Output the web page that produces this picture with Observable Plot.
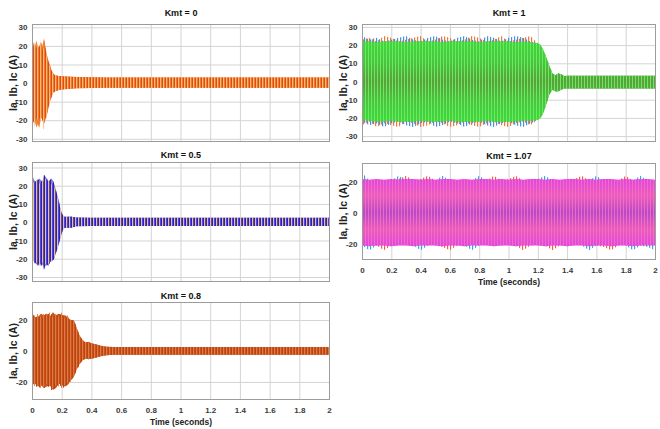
<!DOCTYPE html>
<html><head><meta charset="utf-8">
<script src="https://cdn.jsdelivr.net/npm/d3@7"></script>
<script src="https://cdn.jsdelivr.net/npm/@observablehq/plot@0.6"></script>
<style>
html,body{margin:0;padding:0;background:#fff;}
#chart{position:relative;width:660px;height:429px;overflow:hidden;font-family:"Liberation Sans",Arial,sans-serif;}
#chart > div{position:absolute;}
</style></head><body>
<div id="chart"></div>
<script>
// ---------------- DATA ----------------
const xTicks = [0, 0.2, 0.4, 0.6, 0.8, 1, 1.2, 1.4, 1.6, 1.8, 2];
const xTickLabels = ["0", "0.2", "0.4", "0.6", "0.8", "1", "1.2", "1.4", "1.6", "1.8", "2"];
const yTicksWide = [-30, -20, -10, 0, 10, 20, 30];
const yTickLabelsWide = ["-30", "-20", "-10", "0", "10", "20", "30"];
const yTicksNarrow = [-20, 0, 20];
const yTickLabelsNarrow = ["-20", "0", "20"];
const panelTitles = ["Kmt = 0", "Kmt = 1", "Kmt = 0.5", "Kmt = 1.07", "Kmt = 0.8"];
const yLabel = "Ia, Ib, Ic (A)";
const xLabel = "Time (seconds)";

// Envelope (peak) of each phase current (A)
// Kmt = 0
const tK0 = [0, 0.01, 0.02, 0.03, 0.04, 0.05, 0.06, 0.07, 0.08, 0.09, 0.10, 0.11, 0.12, 0.13, 0.14, 0.15, 0.17, 0.20, 0.30, 0.50, 2.00];
const iaHiK0 = [25, 21, 17, 19, 22, 20, 17, 18, 21, 19, 15, 12, 9, 7, 5.5, 4.5, 4, 3.6, 3.2, 3, 3];
const ibHiK0 = [19, 20, 22, 19, 20, 26, 20, 17, 19, 18, 14, 11, 9, 7, 5.5, 4.5, 4, 3.6, 3.2, 3, 3];
const icHiK0 = [17, 18, 19, 23, 19, 20, 22, 20, 24, 20, 15, 12, 10, 7, 5.5, 4.5, 4, 3.6, 3.2, 3, 3];
const iaLoK0 = [-20, -21, -23, -19, -20, -19, -23, -20, -19, -19, -16, -13, -10, -8, -6, -4.8, -4, -3.5, -2.8, -2.5, -2.5];
const ibLoK0 = [-17, -20, -24, -21, -19, -22, -19, -24, -25, -21, -18, -15, -11, -8, -6, -4.8, -4, -3.5, -2.8, -2.5, -2.5];
const icLoK0 = [-21, -18, -20, -24, -22, -24, -18, -20, -22, -20, -17, -14, -10, -7.5, -5.5, -4.6, -4, -3.5, -2.8, -2.5, -2.5];

// Kmt = 1
const tK1 = [0, 0.05, 0.1, 0.15, 0.2, 0.25, 0.3, 0.35, 0.4, 0.45, 0.5, 0.55, 0.6, 0.65, 0.7, 0.75, 0.8, 0.85, 0.9, 0.95, 1.0, 1.05, 1.1, 1.15, 1.2, 1.22, 1.24, 1.26, 1.28, 1.30, 1.32, 1.34, 1.36, 1.38, 1.40, 1.45, 2.0];
const iaHiK1 = [23, 24, 22, 25, 24, 22, 23, 24, 25, 22, 23, 25, 24, 22, 23, 25, 24, 22, 23, 25, 22, 23, 24, 25, 21, 19, 16, 12, 8, 4, 3.5, 4.3, 4, 3, 3.2, 3.2, 3.2];
const ibHiK1 = [25, 23, 24, 22, 23, 24, 25, 23, 22, 24, 25, 23, 22, 24, 25, 23, 22, 25, 24, 22, 24, 25, 24, 22, 21, 19, 16, 12, 8, 4, 3.5, 4.3, 4, 3, 3.2, 3.2, 3.2];
const icHiK1 = [22, 22, 21.5, 22, 22, 22, 21.5, 22, 22, 22, 22, 21.5, 22, 22, 22, 22, 21.5, 22, 22, 22, 22, 21.5, 22, 21.5, 21, 20, 17, 13, 8.5, 4.5, 3.5, 4.5, 4, 3, 3.2, 3.2, 3.2];
const iaLoK1 = [-24, -22, -25, -23, -24, -25, -22, -23, -25, -24, -22, -23, -25, -24, -22, -24, -25, -23, -22, -24, -25, -23, -22, -24, -21, -19, -16, -12, -7, -4.5, -5.3, -5.3, -4.5, -3.8, -3.8, -3.8, -3.8];
const ibLoK1 = [-22, -24, -23, -25, -23, -22, -24, -25, -23, -22, -25, -24, -22, -23, -25, -23, -22, -24, -25, -23, -22, -24, -25, -23, -21, -19, -16, -12, -7, -4.5, -5.3, -5.3, -4.5, -3.8, -3.8, -3.8, -3.8];
const icLoK1 = [-21, -21.5, -22, -22, -21.5, -22, -22, -22, -21.5, -22, -22, -22, -21.5, -22, -22, -22, -22, -21.5, -22, -22, -22, -22, -21.5, -21.5, -21, -20, -17, -12, -7, -4.5, -5.5, -5.5, -4.5, -3.8, -3.8, -3.8, -3.8];

// Kmt = 0.5
const tK05 = [0, 0.01, 0.02, 0.03, 0.04, 0.05, 0.06, 0.07, 0.08, 0.09, 0.10, 0.11, 0.12, 0.13, 0.14, 0.15, 0.16, 0.17, 0.18, 0.19, 0.20, 0.21, 0.22, 0.24, 0.26, 0.30, 0.40, 2.00];
const iaHiK05 = [20, 22, 21, 23, 22, 21, 24, 22, 23, 24, 22, 23, 22, 21, 20, 19, 17, 14, 11, 8, 5, 3.5, 3, 3, 3, 2.6, 2.5, 2.5];
const ibHiK05 = [22, 21, 23, 21, 24, 23, 21, 23, 22, 23, 24, 22, 23, 22, 21, 20, 17, 15, 11, 7, 5, 3.5, 3, 3, 3, 2.6, 2.5, 2.5];
const icHiK05 = [26, 24, 22, 23, 23, 24, 23, 22, 26, 25, 24, 22, 23, 24, 23, 21, 18, 15, 12, 8, 5, 3.5, 3, 3, 3.2, 2.6, 2.5, 2.5];
const iaLoK05 = [-22, -21, -23, -22, -21, -24, -23, -22, -24, -23, -22, -23, -21, -22, -20, -19, -17, -15, -12, -9, -6, -4, -3, -3, -3, -2.2, -2, -2];
const ibLoK05 = [-21, -23, -22, -24, -23, -22, -23, -25, -23, -22, -24, -22, -23, -21, -21, -19, -17, -14, -12, -9, -6, -4, -3, -3, -3, -2.2, -2, -2];
const icLoK05 = [-22, -21, -22, -23, -24, -22, -24, -23, -26, -24, -23, -24, -22, -21, -21, -20, -17, -15, -12, -9, -6, -4, -3, -3, -3.2, -2.2, -2, -2];

// Kmt = 1.07
const tK107 = [0, 0.05, 0.1, 0.15, 0.2, 0.25, 0.3, 0.35, 0.4, 0.45, 0.5, 0.55, 0.6, 0.65, 0.7, 0.75, 0.8, 0.85, 0.9, 0.95, 1.0, 1.05, 1.1, 1.15, 1.2, 1.25, 1.3, 1.35, 1.4, 1.45, 1.5, 1.55, 1.6, 1.65, 1.7, 1.75, 1.8, 1.85, 1.9, 1.95, 2.0];
const iaHiK107 = [20, 20, 20, 20, 21, 22, 24, 21, 22, 24, 21, 20, 20, 20, 20, 20, 20, 21, 24, 21, 22, 24, 21, 20, 20, 20, 20, 20, 21, 22, 24, 21, 20, 20, 20, 21, 24, 21, 20, 20, 20];
const ibHiK107 = [26, 21, 20, 20, 21, 24, 21, 20, 20, 20, 21, 24, 21, 20, 20, 21, 24, 21, 20, 20, 20, 20, 20, 21, 22, 24, 21, 20, 20, 20, 20, 21, 24, 21, 20, 20, 20, 21, 24, 21, 20];
const icHiK107 = [22, 21.5, 22, 21.5, 22, 21.5, 22, 22, 21.5, 22, 21.5, 22, 22, 21.5, 22, 21.5, 22, 22, 21.5, 22, 21.5, 22, 21.5, 22, 22, 21.5, 22, 21.5, 22, 22, 21.5, 22, 21.5, 22, 22, 21.5, 22, 21.5, 22, 22, 21.5];
const iaLoK107 = [-20, -20, -21, -24, -21, -20, -20, -20, -20, -20, -21, -22, -24, -21, -20, -20, -20, -20, -20, -21, -20, -21, -24, -21, -20, -21, -24, -21, -20, -20, -20, -20, -21, -22, -24, -21, -20, -20, -20, -20, -20];
const ibLoK107 = [-21, -24, -21, -20, -20, -20, -20, -21, -24, -21, -20, -20, -20, -20, -21, -24, -21, -20, -20, -20, -20, -20, -20, -20, -20, -20, -20, -20, -20, -20, -21, -24, -21, -20, -20, -20, -21, -24, -21, -22, -24];
const icLoK107 = [-21, -21.5, -21, -21, -21.5, -21, -21, -21.5, -21, -21, -21, -21.5, -21, -21, -21.5, -21, -21, -21, -21.5, -21, -21, -21.5, -21, -21, -21, -21.5, -21, -21, -21.5, -21, -21, -21.5, -21, -21, -21.5, -21, -21, -21.5, -21, -21, -21];

// Kmt = 0.8
const tK08 = [0, 0.02, 0.04, 0.06, 0.08, 0.10, 0.12, 0.14, 0.16, 0.18, 0.20, 0.22, 0.24, 0.26, 0.28, 0.30, 0.32, 0.34, 0.36, 0.38, 0.40, 0.42, 0.44, 0.47, 0.50, 0.55, 0.60, 2.00];
const iaHiK08 = [25, 21, 23, 21, 22, 25, 23, 24, 22, 23, 24, 22, 21, 19, 20, 16, 10, 7, 5.5, 5.5, 5, 4.5, 4, 3.2, 2.8, 2.5, 2.5, 2.5];
const ibHiK08 = [22, 23, 24, 22, 24, 23, 25, 22, 24, 22, 25, 21, 23, 20, 19, 15, 10, 7, 5.5, 5.5, 5, 4.5, 4, 3.2, 2.8, 2.5, 2.5, 2.5];
const icHiK08 = [24, 22, 22, 24, 23, 24, 22, 25, 23, 24, 23, 23, 22, 20, 20, 15, 10, 7, 5.5, 6, 5, 4.5, 4, 3.2, 2.8, 2.5, 2.5, 2.5];
const iaLoK08 = [-20, -22, -24, -23, -21, -22, -24, -26, -23, -22, -23, -24, -21, -19, -17, -13, -9, -6, -5, -5, -5, -4.5, -4, -3.2, -2.8, -2.5, -2.5, -2.5];
const ibLoK08 = [-21, -23, -22, -24, -23, -21, -23, -24, -22, -23, -24, -22, -20, -20, -16, -12, -8, -6, -5, -5.5, -5, -4.5, -4, -3.2, -2.8, -2.5, -2.5, -2.5];
const icLoK08 = [-22, -21, -23, -22, -24, -23, -22, -25, -24, -21, -22, -23, -22, -19, -17, -12, -8.5, -6, -5, -5, -5, -4.5, -4, -3.2, -2.8, -2.5, -2.5, -2.5];

// ---------------- BUILD ----------------
function rows(t, hi, lo) { return t.map((v, i) => ({t: v, hi: hi[i], lo: lo[i]})); }

const panels = [
  {title: panelTitles[0], phases: [rows(tK0, iaHiK0, iaLoK0), rows(tK0, ibHiK0, ibLoK0), rows(tK0, icHiK0, icLoK0)],
   left: 0, top: 0, w: 335, h: 150, ml: 32, mr: 6, mt: 24, mb: 9, ydom: [-31.2, 31.8], wide: true, xlab: false, tdy: -11,
   cover: false, base: "#ee8438", colors: ["#e04a14", "#f8c27c", "#ef7a2a"], widths: [1.1, 0.9, 1.0]},
  {title: panelTitles[1], phases: [rows(tK1, iaHiK1, iaLoK1), rows(tK1, ibHiK1, ibLoK1), rows(tK1, icHiK1, icLoK1)],
   left: 330, top: 0, w: 330, h: 150, ml: 32, mr: 5, mt: 24, mb: 9, ydom: [-32.7, 31.6], wide: true, xlab: false, tdy: -11,
   cover: true, grad: ["#3ed83e", "#48c642", "#5a9e3e", "#48c642", "#3ed83e"], colors: ["#ea7a40", "#4a90d8", "#6cea5c"], widths: [1.2, 1.2, 1.0]},
  {title: panelTitles[2], phases: [rows(tK05, iaHiK05, iaLoK05), rows(tK05, ibHiK05, ibLoK05), rows(tK05, icHiK05, icLoK05)],
   left: 0, top: 140, w: 335, h: 150, ml: 32, mr: 6, mt: 22, mb: 9, ydom: [-32.2, 33], wide: true, xlab: false, tdy: -7,
   cover: false, base: "#8f7fb4", colors: ["#e6c486", "#5a3cc0", "#2222d2"], widths: [1.0, 0.9, 1.1]},
  {title: panelTitles[3], phases: [rows(tK107, iaHiK107, iaLoK107), rows(tK107, ibHiK107, ibLoK107), rows(tK107, icHiK107, icLoK107)],
   left: 330, top: 140, w: 330, h: 150, ml: 32, mr: 5, mt: 23, mb: 31, ydom: [-29.7, 32.3], wide: false, xlab: true, tdy: -7,
   cover: true, grad: ["#e244e2", "#ee5cb8", "#b848c8", "#ee5cb8", "#e244e2"], colors: ["#f2604c", "#3aa6e0", "#f070c8"], widths: [1.2, 1.2, 0.9]},
  {title: panelTitles[4], phases: [rows(tK08, iaHiK08, iaLoK08), rows(tK08, ibHiK08, ibLoK08), rows(tK08, icHiK08, icLoK08)],
   left: 0, top: 280, w: 335, h: 149, ml: 32, mr: 6, mt: 22, mb: 30, ydom: [-31, 31.6], wide: false, xlab: true, tdy: -6,
   cover: false, base: "#c85a22", colors: ["#bc4210", "#de7c46", "#c9521a"], widths: [1.0, 1.0, 1.0]}
];

const chart = document.getElementById("chart");
// stripe patterns (one signal cycle ≈ 3 px) and gradients
const defsSvg = d3.select(chart).append("svg").attr("width", 0).attr("height", 0)
  .style("position", "absolute").style("left", 0).style("top", 0);
const defs = defsSvg.append("defs");
panels.forEach((p, pi) => {
  p.colors.forEach((c, k) => {
    const pat = defs.append("pattern").attr("id", `pat${pi}_${k}`)
      .attr("patternUnits", "userSpaceOnUse").attr("width", 3).attr("height", 4);
    pat.append("rect").attr("x", k).attr("y", 0).attr("width", p.widths[k]).attr("height", 4).attr("fill", c);
  });
  if (p.grad) {
    const g = defs.append("linearGradient").attr("id", `grad${pi}`)
      .attr("x1", 0).attr("y1", 0).attr("x2", 0).attr("y2", 1);
    p.grad.forEach((c, i) => g.append("stop").attr("offset", i / (p.grad.length - 1)).attr("stop-color", c));
    p.base = `url(#grad${pi})`;
  }
});

const font = "'Liberation Sans', Arial, sans-serif";
panels.forEach((p, pi) => {
  const yt = p.wide ? yTicksWide : yTicksNarrow;
  const ytl = p.wide ? yTickLabelsWide : yTickLabelsNarrow;
  const area = (d, fill) => Plot.areaY(d, {x: "t", y1: "lo", y2: "hi", fill, curve: "linear", clip: true});
  const dataMarks = p.cover
    ? [area(p.phases[0], `url(#pat${pi}_0)`), area(p.phases[1], `url(#pat${pi}_1)`),
       area(p.phases[2], p.base), area(p.phases[2], `url(#pat${pi}_2)`)]
    : [area(p.phases[2], p.base), ...p.phases.map((d, k) => area(d, `url(#pat${pi}_${k})`))];
  const marks = [
    Plot.gridX(xTicks, {stroke: "#d4d4d4", strokeOpacity: 1}),
    Plot.gridY(yt, {stroke: "#d4d4d4", strokeOpacity: 1}),
    ...dataMarks,
    Plot.frame({stroke: "#9c9c9c"}),
    Plot.axisY(yt, {tickSize: 0, tickPadding: 5, label: null, fontSize: 8, fill: "#3a3a3a", fontWeight: "bold",
      tickFormat: (d, i) => ytl[i]}),
    Plot.text([p.title], {text: d => d, frameAnchor: "top", lineAnchor: "middle", dy: p.tdy, fontWeight: "bold", fontSize: 9, fill: "#111"}),
    Plot.text([yLabel], {text: d => d, frameAnchor: "left", textAnchor: "middle", lineAnchor: "middle", dx: -19, rotate: -90, fontWeight: "bold", fontSize: 10.5, fill: "#222"})
  ];
  if (p.xlab) {
    marks.push(Plot.axisX(xTicks, {tickSize: 0, tickPadding: 8, label: null, fontSize: 8, fill: "#3a3a3a", fontWeight: "bold",
      tickFormat: (d, i) => xTickLabels[i]}));
    marks.push(Plot.text([xLabel], {text: d => d, frameAnchor: "bottom", lineAnchor: "middle", dy: 23, fontWeight: "bold", fontSize: 8.5, fill: "#222"}));
  }
  const svg = Plot.plot({
    width: p.w, height: p.h,
    marginLeft: p.ml, marginRight: p.mr, marginTop: p.mt, marginBottom: p.mb,
    x: {domain: [0, 2], axis: null},
    y: {domain: p.ydom, axis: null},
    style: {fontFamily: font, background: "transparent", overflow: "visible"},
    marks
  });
  // soften the dense waveform like the sampled screenshot
  d3.select(svg).selectAll('g[aria-label="area"]').style("filter", "blur(0.45px)");
  const holder = document.createElement("div");
  holder.style.left = p.left + "px";
  holder.style.top = p.top + "px";
  holder.appendChild(svg);
  chart.appendChild(holder);
});
</script></body></html>
